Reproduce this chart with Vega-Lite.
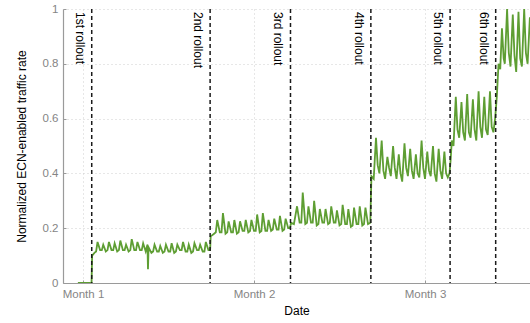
{
  "$schema": "https://vega.github.io/schema/vega-lite/v6.json",
  "width": 467,
  "height": 274,
  "autosize": {"type": "none"},
  "padding": {"left": 63, "top": 9, "right": 0, "bottom": 40},
  "config": {
    "font": "Liberation Sans",
    "view": {"stroke": null},
    "axis": {
      "labelColor": "#858585",
      "labelFontSize": 11.5,
      "labelFont": "Liberation Sans",
      "titleFont": "Liberation Sans",
      "titleFontSize": 12,
      "titleFontWeight": "normal",
      "titleColor": "#000000",
      "domainColor": "#9a9a9a",
      "domainWidth": 1.2,
      "tickColor": "#9a9a9a",
      "tickSize": -3,
      "gridColor": "#cfcfcf",
      "gridDash": [1, 3],
      "gridWidth": 1
    }
  },
  "layer": [
    {
      "data": {
        "values": [
          {"t": -0.9, "v": 0}, {"t": 1.5, "v": 0}, {"t": 1.6, "v": 0.10},
          {"t": 2, "v": 0.11}, {"t": 2.3, "v": 0.115}, {"t": 2.55, "v": 0.15},
          {"t": 3, "v": 0.12}, {"t": 3.3, "v": 0.12}, {"t": 3.55, "v": 0.14},
          {"t": 4, "v": 0.115}, {"t": 4.3, "v": 0.12}, {"t": 4.55, "v": 0.15},
          {"t": 5, "v": 0.12}, {"t": 5.3, "v": 0.12}, {"t": 5.55, "v": 0.145},
          {"t": 6, "v": 0.115}, {"t": 6.3, "v": 0.12}, {"t": 6.55, "v": 0.155},
          {"t": 7, "v": 0.12}, {"t": 7.3, "v": 0.12}, {"t": 7.55, "v": 0.14},
          {"t": 8, "v": 0.115}, {"t": 8.3, "v": 0.12}, {"t": 8.55, "v": 0.16},
          {"t": 9, "v": 0.12}, {"t": 9.3, "v": 0.12}, {"t": 9.55, "v": 0.15},
          {"t": 10, "v": 0.12}, {"t": 10.3, "v": 0.12}, {"t": 10.55, "v": 0.145},
          {"t": 11, "v": 0.115}, {"t": 11.3, "v": 0.14}, {"t": 11.4, "v": 0.05}, {"t": 11.5, "v": 0.13},
          {"t": 12, "v": 0.11}, {"t": 12.3, "v": 0.115}, {"t": 12.55, "v": 0.14},
          {"t": 13, "v": 0.115}, {"t": 13.3, "v": 0.115}, {"t": 13.55, "v": 0.135},
          {"t": 14, "v": 0.11}, {"t": 14.3, "v": 0.115}, {"t": 14.55, "v": 0.14},
          {"t": 15, "v": 0.115}, {"t": 15.3, "v": 0.115}, {"t": 15.55, "v": 0.145},
          {"t": 16, "v": 0.11}, {"t": 16.3, "v": 0.115}, {"t": 16.55, "v": 0.14},
          {"t": 17, "v": 0.12}, {"t": 17.3, "v": 0.12}, {"t": 17.55, "v": 0.15},
          {"t": 18, "v": 0.115}, {"t": 18.3, "v": 0.115}, {"t": 18.55, "v": 0.14},
          {"t": 19, "v": 0.11}, {"t": 19.3, "v": 0.115}, {"t": 19.55, "v": 0.145},
          {"t": 20, "v": 0.12}, {"t": 20.3, "v": 0.12}, {"t": 20.55, "v": 0.14},
          {"t": 21, "v": 0.115}, {"t": 21.3, "v": 0.115}, {"t": 21.55, "v": 0.15},
          {"t": 22, "v": 0.12}, {"t": 22.3, "v": 0.12}, {"t": 22.4, "v": 0.17},
          {"t": 23, "v": 0.18}, {"t": 23.3, "v": 0.185}, {"t": 23.55, "v": 0.23},
          {"t": 24, "v": 0.185}, {"t": 24.3, "v": 0.185}, {"t": 24.55, "v": 0.255},
          {"t": 25, "v": 0.18}, {"t": 25.3, "v": 0.185}, {"t": 25.55, "v": 0.225},
          {"t": 26, "v": 0.185}, {"t": 26.3, "v": 0.185}, {"t": 26.55, "v": 0.23},
          {"t": 27, "v": 0.18}, {"t": 27.3, "v": 0.185}, {"t": 27.55, "v": 0.225},
          {"t": 28, "v": 0.19}, {"t": 28.3, "v": 0.19}, {"t": 28.55, "v": 0.23},
          {"t": 29, "v": 0.185}, {"t": 29.3, "v": 0.19}, {"t": 29.55, "v": 0.23},
          {"t": 30, "v": 0.19}, {"t": 30.3, "v": 0.19}, {"t": 30.55, "v": 0.25},
          {"t": 31, "v": 0.185}, {"t": 31.3, "v": 0.19}, {"t": 31.55, "v": 0.255},
          {"t": 32, "v": 0.19}, {"t": 32.3, "v": 0.19}, {"t": 32.55, "v": 0.23},
          {"t": 33, "v": 0.19}, {"t": 33.3, "v": 0.195}, {"t": 33.55, "v": 0.235},
          {"t": 34, "v": 0.195}, {"t": 34.3, "v": 0.195}, {"t": 34.55, "v": 0.245},
          {"t": 35, "v": 0.19}, {"t": 35.3, "v": 0.195}, {"t": 35.55, "v": 0.235},
          {"t": 36, "v": 0.2}, {"t": 36.3, "v": 0.2},
          {"t": 36.5, "v": 0.22}, {"t": 37, "v": 0.215}, {"t": 37.55, "v": 0.28},
          {"t": 38, "v": 0.22}, {"t": 38.3, "v": 0.22}, {"t": 38.55, "v": 0.33},
          {"t": 39, "v": 0.215}, {"t": 39.3, "v": 0.22}, {"t": 39.55, "v": 0.28},
          {"t": 40, "v": 0.22}, {"t": 40.3, "v": 0.22}, {"t": 40.55, "v": 0.30},
          {"t": 41, "v": 0.21}, {"t": 41.3, "v": 0.215}, {"t": 41.55, "v": 0.27},
          {"t": 42, "v": 0.22}, {"t": 42.3, "v": 0.22}, {"t": 42.55, "v": 0.27},
          {"t": 43, "v": 0.215}, {"t": 43.3, "v": 0.22}, {"t": 43.55, "v": 0.28},
          {"t": 44, "v": 0.22}, {"t": 44.3, "v": 0.22}, {"t": 44.55, "v": 0.265},
          {"t": 45, "v": 0.21}, {"t": 45.3, "v": 0.215}, {"t": 45.55, "v": 0.285},
          {"t": 46, "v": 0.215}, {"t": 46.3, "v": 0.215}, {"t": 46.55, "v": 0.27},
          {"t": 47, "v": 0.205}, {"t": 47.3, "v": 0.21}, {"t": 47.55, "v": 0.275},
          {"t": 48, "v": 0.215}, {"t": 48.3, "v": 0.215}, {"t": 48.55, "v": 0.28},
          {"t": 49, "v": 0.21}, {"t": 49.3, "v": 0.215}, {"t": 49.55, "v": 0.275},
          {"t": 50, "v": 0.215}, {"t": 50.4, "v": 0.22},
          {"t": 50.6, "v": 0.39},
          {"t": 51, "v": 0.38}, {"t": 51.4, "v": 0.53}, {"t": 51.7, "v": 0.43},
          {"t": 52, "v": 0.40}, {"t": 52.4, "v": 0.52}, {"t": 52.7, "v": 0.41},
          {"t": 53, "v": 0.38}, {"t": 53.4, "v": 0.46}, {"t": 53.7, "v": 0.42},
          {"t": 54, "v": 0.39}, {"t": 54.4, "v": 0.50}, {"t": 54.7, "v": 0.42},
          {"t": 55, "v": 0.38}, {"t": 55.4, "v": 0.47}, {"t": 55.7, "v": 0.40},
          {"t": 56, "v": 0.37}, {"t": 56.4, "v": 0.51}, {"t": 56.7, "v": 0.42},
          {"t": 57, "v": 0.39}, {"t": 57.4, "v": 0.49}, {"t": 57.7, "v": 0.41},
          {"t": 58, "v": 0.38}, {"t": 58.4, "v": 0.47}, {"t": 58.7, "v": 0.40},
          {"t": 59, "v": 0.385}, {"t": 59.4, "v": 0.52}, {"t": 59.7, "v": 0.42},
          {"t": 60, "v": 0.38}, {"t": 60.4, "v": 0.48}, {"t": 60.7, "v": 0.41},
          {"t": 61, "v": 0.39}, {"t": 61.4, "v": 0.50}, {"t": 61.7, "v": 0.40},
          {"t": 62, "v": 0.37}, {"t": 62.4, "v": 0.49}, {"t": 62.7, "v": 0.41},
          {"t": 63, "v": 0.38}, {"t": 63.4, "v": 0.48}, {"t": 63.7, "v": 0.40},
          {"t": 64, "v": 0.385}, {"t": 64.3, "v": 0.40},
          {"t": 64.5, "v": 0.45}, {"t": 64.7, "v": 0.52},
          {"t": 65, "v": 0.50}, {"t": 65.4, "v": 0.68}, {"t": 65.7, "v": 0.56},
          {"t": 66, "v": 0.53}, {"t": 66.4, "v": 0.66}, {"t": 66.7, "v": 0.55},
          {"t": 67, "v": 0.52}, {"t": 67.4, "v": 0.69}, {"t": 67.7, "v": 0.55},
          {"t": 68, "v": 0.53}, {"t": 68.4, "v": 0.67}, {"t": 68.7, "v": 0.56},
          {"t": 69, "v": 0.52}, {"t": 69.4, "v": 0.70}, {"t": 69.7, "v": 0.57},
          {"t": 70, "v": 0.53}, {"t": 70.4, "v": 0.68}, {"t": 70.7, "v": 0.56},
          {"t": 71, "v": 0.54}, {"t": 71.4, "v": 0.70}, {"t": 71.7, "v": 0.57},
          {"t": 72, "v": 0.55}, {"t": 72.3, "v": 0.60},
          {"t": 72.6, "v": 0.68}, {"t": 72.9, "v": 0.80}, {"t": 73.2, "v": 0.78}, {"t": 73.5, "v": 0.93}, {"t": 73.8, "v": 0.82},
          {"t": 74, "v": 0.80}, {"t": 74.4, "v": 1.0}, {"t": 74.7, "v": 0.84},
          {"t": 75, "v": 0.79}, {"t": 75.4, "v": 0.98}, {"t": 75.7, "v": 0.83},
          {"t": 76, "v": 0.77}, {"t": 76.4, "v": 0.99}, {"t": 76.7, "v": 0.82},
          {"t": 77, "v": 0.79}, {"t": 77.4, "v": 1.0}, {"t": 77.7, "v": 0.84},
          {"t": 78, "v": 0.80}, {"t": 78.4, "v": 0.97}
        ]
      },
      "mark": {"type": "line", "color": "#5e9e33", "strokeWidth": 1.8, "clip": true},
      "encoding": {
        "x": {
          "field": "t",
          "type": "quantitative",
          "scale": {"domain": [-3.51, 78.42], "nice": false, "zero": false},
          "axis": {
            "title": "Date",
            "values": [0, 30, 60],
            "labelExpr": "datum.value == 0 ? 'Month 1' : datum.value == 30 ? 'Month 2' : 'Month 3'",
            "labelPadding": 8,
            "titlePadding": 6,
            "grid": true
          }
        },
        "y": {
          "field": "v",
          "type": "quantitative",
          "scale": {"domain": [0, 1], "nice": false},
          "axis": {
            "title": "Normalized ECN-enabled traffic rate",
            "values": [0, 0.2, 0.4, 0.6, 0.8, 1],
            "format": "~g",
            "labelPadding": 8,
            "titlePadding": 14,
            "grid": true
          }
        }
      }
    },
    {
      "data": {
        "values": [
          {"t": 1.53, "label": "1st rollout"},
          {"t": 22.3, "label": "2nd rollout"},
          {"t": 36.4, "label": "3rd rollout"},
          {"t": 50.5, "label": "4th rollout"},
          {"t": 64.4, "label": "5th rollout"},
          {"t": 72.4, "label": "6th rollout"}
        ]
      },
      "layer": [
        {
          "mark": {"type": "rule", "color": "#1a1a1a", "strokeWidth": 1.5, "strokeDash": [4, 3]},
          "encoding": {"x": {"field": "t", "type": "quantitative"}}
        },
        {
          "mark": {"type": "text", "angle": 90, "align": "left", "baseline": "alphabetic", "dx": 3, "dy": 16, "fontSize": 12, "color": "#000000", "font": "Liberation Sans"},
          "encoding": {
            "x": {"field": "t", "type": "quantitative"},
            "y": {"datum": 1, "type": "quantitative"},
            "text": {"field": "label"}
          }
        }
      ]
    }
  ]
}
